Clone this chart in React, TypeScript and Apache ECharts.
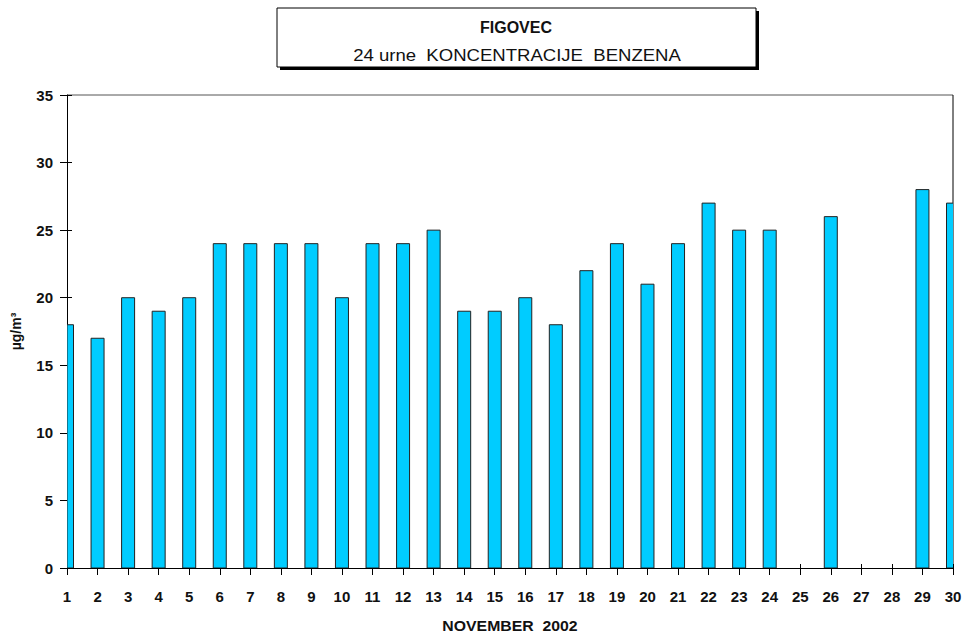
import React, { useEffect, useRef } from "react";
import * as echarts from "echarts";

const days = Array.from({ length: 30 }, (_, i) => String(i + 1));
const benzene: (number | null)[] = [
  18, 17, 20, 19, 20, 24, 24, 24, 24, 20,
  24, 24, 25, 19, 19, 20, 18, 22, 24, 21,
  24, 27, 25, 25, null, 26, null, null, 28, 27,
];
const titleMain = "FIGOVEC";
const titleSub = "24 urne  KONCENTRACIJE  BENZENA";
const xName = "NOVEMBER  2002";
const yName = "µg/m³";

export default function App() {
  const ref = useRef<HTMLDivElement>(null);
  useEffect(() => {
    if (!ref.current) return;
    const chart = echarts.init(ref.current, null, { renderer: "svg" });
    const font = "Liberation Sans, Arial, sans-serif";
    const axisLabel = { fontFamily: font, fontWeight: "bold" as const, fontSize: 15, color: "#111" };
    const barData = days.map((d, i) => [i, benzene[i] == null ? "-" : benzene[i]]);
    chart.setOption({
      animation: false,
      backgroundColor: "#fff",
      grid: { left: 67, right: 13, top: 95, bottom: 69, containLabel: false },
      graphic: [
        { type: "rect", shape: { x: 280, y: 11, width: 479, height: 59 }, style: { fill: "#000" } },
        { type: "rect", shape: { x: 277, y: 8, width: 479, height: 59 }, style: { fill: "#fff", stroke: "#000", lineWidth: 1 } },
        { type: "text", x: 516, y: 27, style: { text: titleMain, fontFamily: font, fontWeight: "bold", fontSize: 16, fill: "#111", align: "center", verticalAlign: "middle" } },
        { type: "text", x: 517, y: 55, scaleX: 1.16, style: { text: titleSub, fontFamily: font, fontSize: 16, fill: "#111", align: "center", verticalAlign: "middle" } },
        { type: "text", x: 510, y: 626, scaleX: 1.13, style: { text: xName, fontFamily: font, fontWeight: "bold", fontSize: 14, fill: "#111", align: "center", verticalAlign: "middle" } },
        { type: "line", shape: { x1: 67, y1: 95, x2: 953, y2: 95 }, style: { stroke: "#555", lineWidth: 1 } },
        { type: "line", shape: { x1: 953, y1: 95, x2: 953, y2: 568 }, style: { stroke: "#000", lineWidth: 1 } },
      ],
      xAxis: [
        {
          type: "category",
          data: days,
          boundaryGap: false,
          axisLine: { lineStyle: { color: "#000", width: 1 } },
          axisTick: { show: true, length: 7, inside: false, lineStyle: { color: "#000" } },
          axisLabel: { ...axisLabel, margin: 21, interval: 0 },
          splitLine: { show: false },
        },
        {
          type: "category",
          data: days,
          boundaryGap: false,
          position: "bottom",
          axisLine: { show: false },
          axisTick: { show: true, length: 4, inside: true, lineStyle: { color: "#000" } },
          axisLabel: { show: false },
          splitLine: { show: false },
        },
      ],
      yAxis: [
        {
          type: "value",
          min: 0,
          max: 35,
          interval: 5,
          name: yName,
          nameLocation: "middle",
          nameGap: 44,
          nameTextStyle: { fontFamily: font, fontWeight: "bold", fontSize: 14, color: "#111" },
          axisLine: { show: true, lineStyle: { color: "#000", width: 1 } },
          axisTick: { show: true, length: 7, inside: false, lineStyle: { color: "#000" } },
          axisLabel: { ...axisLabel, margin: 14 },
          splitLine: { show: false },
        },
        {
          type: "value",
          min: 0,
          max: 35,
          interval: 5,
          position: "left",
          axisLine: { show: false },
          axisTick: { show: true, length: 5, inside: true, lineStyle: { color: "#000" } },
          axisLabel: { show: false },
          splitLine: { show: false },
        },
      ],
      series: [
        {
          type: "custom",
          xAxisIndex: 0,
          yAxisIndex: 0,
          data: barData,
          encode: { x: 0, y: 1 },
          clip: true,
          renderItem: (params: any, api: any) => {
            const v = api.value(1);
            if (v == null || isNaN(v)) return null;
            const top = api.coord([api.value(0), v]);
            const base = api.coord([api.value(0), 0]);
            const cs = params.coordSys;
            const w = 13;
            const x0 = Math.max(top[0] - w / 2, cs.x);
            const x1 = Math.min(top[0] + w / 2, cs.x + cs.width + 2);
            return {
              type: "rect",
              shape: { x: x0, y: top[1], width: x1 - x0, height: base[1] - top[1] },
              style: { fill: "#00CCFF", stroke: "#222", lineWidth: 1 },
            };
          },
        },
      ],
    });
    return () => chart.dispose();
  }, []);
  return (
    <div
      ref={ref}
      style={{ position: "fixed", left: 0, top: 0, width: 966, height: 637 }}
    />
  );
}
